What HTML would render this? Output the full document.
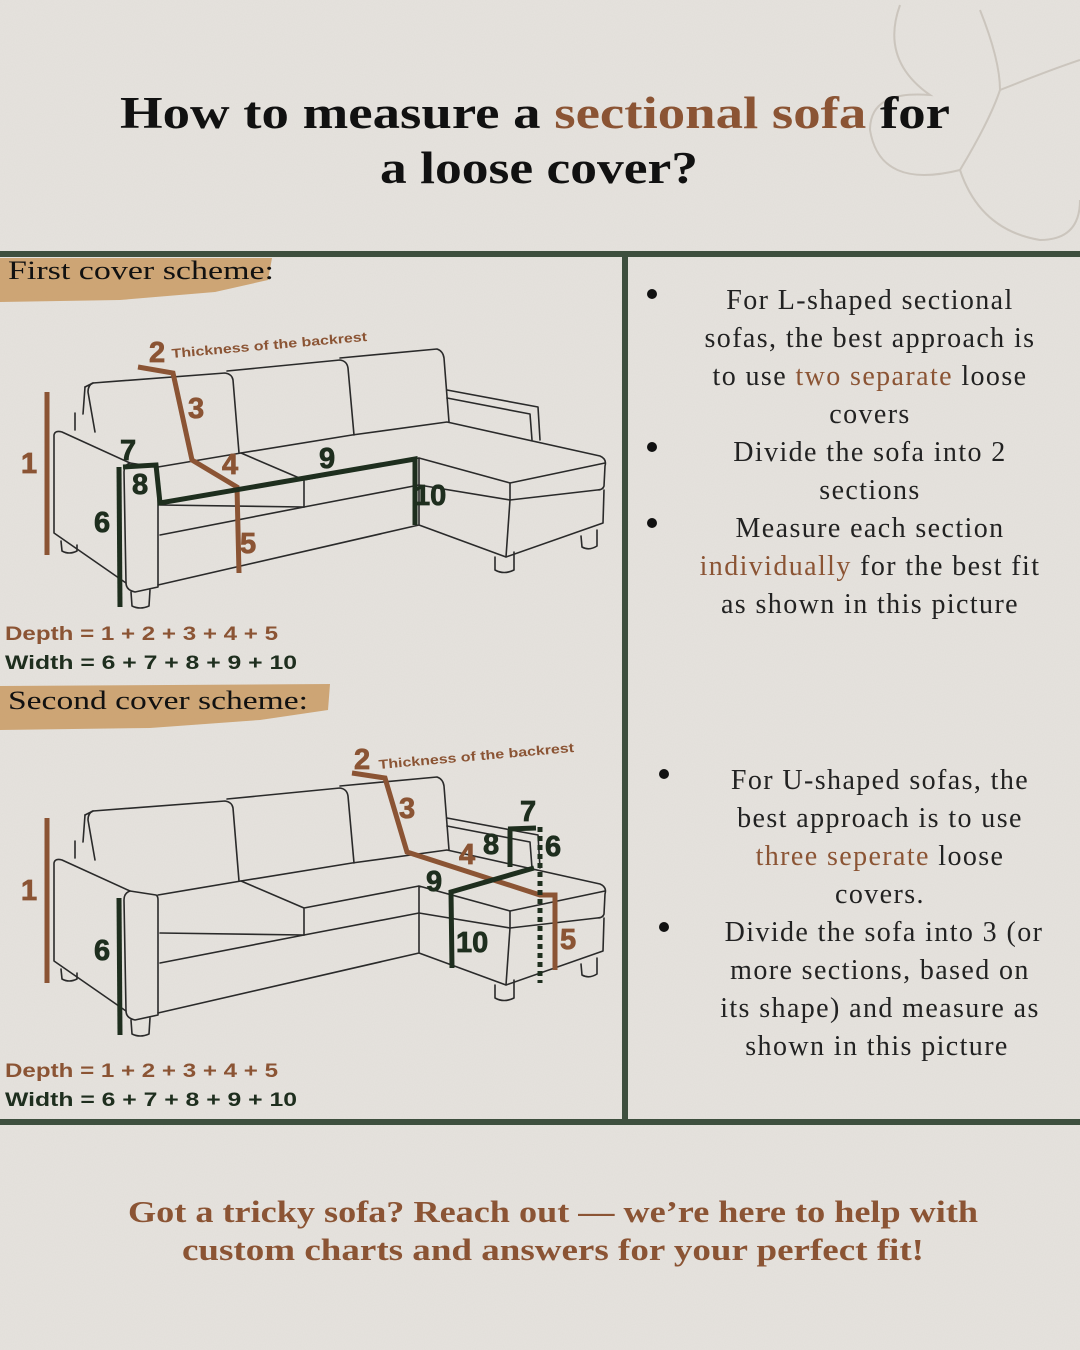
<!DOCTYPE html>
<html><head><meta charset="utf-8"><style>
html,body{margin:0;padding:0;}
body{width:1080px;height:1350px;overflow:hidden;background:#e5e2dd;}
svg{display:block;}
.sf{fill:none;stroke:#2a2a2a;stroke-width:1.6;stroke-linejoin:round;stroke-linecap:round;}
.ser{font-family:"Liberation Serif",serif;}
.san{font-family:"Liberation Sans",sans-serif;font-weight:bold;}
.num{stroke-width:0.8;}
</style></head><body>
<svg width="1080" height="1350" viewBox="0 0 1080 1350" xmlns="http://www.w3.org/2000/svg">
<defs>
<g id="sofa">
 <path class="sf" d="M85,387 L93,383 L225,373 Q232,374 233,380 L239,453"/>
 <path class="sf" d="M93,383 Q88,385 88,392 L95,432"/>
 <path class="sf" d="M227,371 L340,360 Q347,361 348,368 L354,435"/>
 <path class="sf" d="M340,358 L437,349 Q443,351 444,358 L449,422"/>
 <path class="sf" d="M85,387 L83,414 M75,413 L75,430"/>
 <path class="sf" d="M447,390 L538,407 L540,440 M447,398 L530,414 L532,440"/>
 <path class="sf" d="M54,435 Q55,430 62,432 L130,463 L156,467 Q158,468 158,472 L158,587 L135,592 Q126,590 126,583 L54,533 Z"/>
 <path class="sf" d="M130,463 Q124,465 124,472 L126,583"/>
 <path class="sf" d="M158,467 L241,453 L352,435 L447,422 L600,456 Q607,459 605,466 L604,486 Q603,490 597,490 L510,500 L419,485 L304,507 L160,505"/>
 <path class="sf" d="M241,453 L304,480 L304,507 M304,480 L419,458 L419,485 M419,458 L510,483 L605,463 M510,483 L510,500"/>
 <path class="sf" d="M160,535 L304,507 M419,485 L419,525 M604,490 L603,523 L506,557 L419,525 L158,585"/>
 <path class="sf" d="M510,500 L506,557"/>
 <path class="sf" d="M131,592 L132,606 Q140,610 149,606 L150,590"/>
 <path class="sf" d="M495,557 L495,570 Q504,575 514,570 L514,552"/>
 <path class="sf" d="M581,536 L582,547 Q589,551 597,546 L597,530"/>
 <path class="sf" d="M61,541 L62,551 Q69,555 77,551 L77,545"/>
</g>
<filter id="tx"><feTurbulence type="fractalNoise" baseFrequency="0.9" numOctaves="2" seed="3"/><feColorMatrix values="0 0 0 0 0.5 0 0 0 0 0.48 0 0 0 0 0.45 0 0 0 0.12 0"/></filter>
</defs>
<rect width="1080" height="1350" fill="#e6e3de"/>
<rect width="1080" height="1350" filter="url(#tx)"/>
<g fill="none" stroke="#cbc5bd" stroke-width="2">
<path d="M900,5 Q880,60 930,95 Q870,90 870,130 Q880,190 960,170 Q980,230 1040,240 Q1080,240 1080,200"/>
<path d="M960,170 Q990,120 1000,90 M980,10 Q1000,60 1000,90 Q1050,70 1080,60"/>
</g>
<text class="ser" x="120" y="128" font-size="45" font-weight="bold" fill="#111" textLength="830" lengthAdjust="spacingAndGlyphs">How to measure a <tspan fill="#8b5434">sectional sofa</tspan> for</text>
<text class="ser" x="380" y="183" font-size="45" font-weight="bold" fill="#111" textLength="318" lengthAdjust="spacingAndGlyphs">a loose cover?</text>
<rect x="0" y="251" width="1080" height="6" fill="#3e4f3e"/>
<rect x="622" y="254" width="6" height="870" fill="#3e4f3e"/>
<rect x="0" y="1119" width="1080" height="6" fill="#3e4f3e"/>
<path d="M0,258 L272,258 L268,280 L215,292 L120,300 L0,302 Z" fill="#c99a63" opacity="0.85"/>
<text class="ser" x="8" y="279" font-size="26" fill="#111" textLength="266" lengthAdjust="spacingAndGlyphs">First cover scheme:</text>
<path d="M0,686 L330,684 L328,710 L260,720 L150,728 L0,730 Z" fill="#c99a63" opacity="0.85"/>
<text class="ser" x="8" y="709" font-size="26" fill="#111" textLength="300" lengthAdjust="spacingAndGlyphs">Second cover scheme:</text>
<use href="#sofa"/>
<g fill="none" stroke-width="5" stroke-linejoin="miter">
<path d="M47,392 L47,555" stroke="#8b5434"/>
<path d="M138,367 L173,373 L192,460 L237,487 L239,573" stroke="#8b5434"/>
<path d="M119,467 L120,607" stroke="#1e2e1e"/>
<path d="M123,467 L156,465 L160,503 L415,459 L415,525" stroke="#1e2e1e"/>
</g>
<g class="san num" font-size="29">
<text x="21" y="473" fill="#8b5434" stroke="#8b5434">1</text>
<text x="149" y="362" fill="#8b5434" stroke="#8b5434">2</text>
<text x="188" y="418" fill="#8b5434" stroke="#8b5434">3</text>
<text x="222" y="474" fill="#8b5434" stroke="#8b5434">4</text>
<text x="240" y="553" fill="#8b5434" stroke="#8b5434">5</text>
<text x="94" y="532" fill="#1e2e1e" stroke="#1e2e1e">6</text>
<text x="120" y="460" fill="#1e2e1e" stroke="#1e2e1e">7</text>
<text x="132" y="494" fill="#1e2e1e" stroke="#1e2e1e">8</text>
<text x="319" y="468" fill="#1e2e1e" stroke="#1e2e1e">9</text>
<text x="414" y="505" fill="#1e2e1e" stroke="#1e2e1e">10</text>
</g>
<text class="san" x="172" y="358" font-size="13" fill="#8b5434" transform="rotate(-5 172 358)" textLength="196" lengthAdjust="spacingAndGlyphs">Thickness of the backrest</text>
<text class="san" x="5" y="640" font-size="19" fill="#8b5434" textLength="273" lengthAdjust="spacingAndGlyphs">Depth = 1 + 2 + 3 + 4 + 5</text>
<text class="san" x="5" y="669" font-size="19" fill="#1e2e1e" textLength="292" lengthAdjust="spacingAndGlyphs">Width =  6 + 7 + 8 + 9 + 10</text>
<use href="#sofa" transform="translate(0,428)"/>
<g fill="none" stroke-width="5" stroke-linejoin="miter">
<path d="M47,818 L47,983" stroke="#8b5434"/>
<path d="M352,773 L385,778 L407,852 L540,895 L555,895 L555,970" stroke="#8b5434"/>
<path d="M119,898 L120,1035" stroke="#1e2e1e"/>
<path d="M508,829 L536,828 M510,830 L510,867 M534,868 L451,892 L452,968" stroke="#1e2e1e"/>
<path d="M540,827 L540,983" stroke="#1e2e1e" stroke-dasharray="5,4"/>
</g>
<g class="san num" font-size="29">
<text x="21" y="900" fill="#8b5434" stroke="#8b5434">1</text>
<text x="354" y="769" fill="#8b5434" stroke="#8b5434">2</text>
<text x="399" y="818" fill="#8b5434" stroke="#8b5434">3</text>
<text x="459" y="864" fill="#8b5434" stroke="#8b5434">4</text>
<text x="560" y="949" fill="#8b5434" stroke="#8b5434">5</text>
<text x="94" y="960" fill="#1e2e1e" stroke="#1e2e1e">6</text>
<text x="520" y="821" fill="#1e2e1e" stroke="#1e2e1e">7</text>
<text x="483" y="854" fill="#1e2e1e" stroke="#1e2e1e">8</text>
<text x="545" y="856" fill="#1e2e1e" stroke="#1e2e1e">6</text>
<text x="426" y="891" fill="#1e2e1e" stroke="#1e2e1e">9</text>
<text x="456" y="952" fill="#1e2e1e" stroke="#1e2e1e">10</text>
</g>
<text class="san" x="379" y="769" font-size="13" fill="#8b5434" transform="rotate(-5 379 769)" textLength="196" lengthAdjust="spacingAndGlyphs">Thickness of the backrest</text>
<text class="san" x="5" y="1077" font-size="19" fill="#8b5434" textLength="273" lengthAdjust="spacingAndGlyphs">Depth = 1 + 2 + 3 + 4 + 5</text>
<text class="san" x="5" y="1106" font-size="19" fill="#1e2e1e" textLength="292" lengthAdjust="spacingAndGlyphs">Width =  6 + 7 + 8 + 9 + 10</text>
<g class="ser" font-size="28" fill="#222" text-anchor="middle" letter-spacing="1.4">
<text x="870" y="309">For L-shaped sectional</text>
<text x="870" y="347">sofas, the best approach is</text>
<text x="870" y="385">to use <tspan fill="#8b5434">two separate</tspan> loose</text>
<text x="870" y="423">covers</text>
<text x="870" y="461">Divide the sofa into 2</text>
<text x="870" y="499">sections</text>
<text x="870" y="537">Measure each section</text>
<text x="870" y="575"><tspan fill="#8b5434">individually</tspan> for the best fit</text>
<text x="870" y="613">as shown in this picture</text>
<text x="880" y="789">For U-shaped sofas, the</text>
<text x="880" y="827">best approach is to use</text>
<text x="880" y="865"><tspan fill="#8b5434">three seperate</tspan> loose</text>
<text x="880" y="903">covers.</text>
<text x="884" y="941">Divide the sofa into 3 (or</text>
<text x="880" y="979">more sections, based on</text>
<text x="880" y="1017">its shape) and measure as</text>
<text x="877" y="1055">shown in this picture</text>
</g>
<g fill="#111"><circle cx="652" cy="294" r="5"/><circle cx="652" cy="447" r="5"/><circle cx="652" cy="523" r="5"/><circle cx="664" cy="774" r="5"/><circle cx="664" cy="927" r="5"/></g>
<g class="ser" font-size="31" font-weight="bold" fill="#8b5434" text-anchor="middle">
<text x="553" y="1222" textLength="850" lengthAdjust="spacingAndGlyphs">Got a tricky sofa? Reach out — we’re here to help with</text>
<text x="553" y="1260" textLength="742" lengthAdjust="spacingAndGlyphs">custom charts and answers for your perfect fit!</text>
</g>
</svg>
</body></html>
